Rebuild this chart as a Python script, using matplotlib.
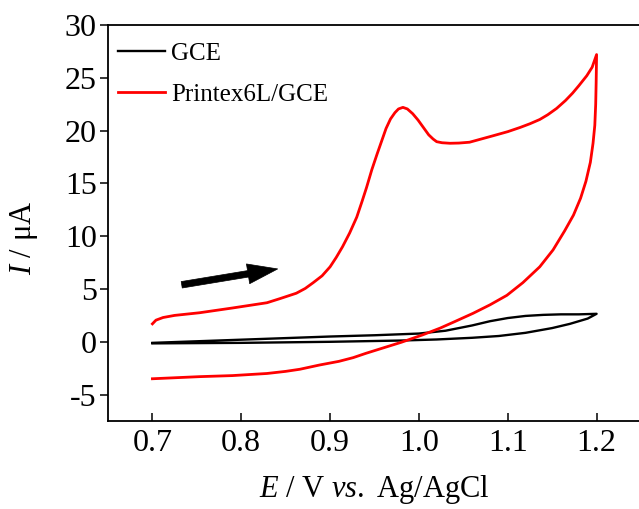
import numpy as np
import matplotlib
matplotlib.use('Agg')
from matplotlib import pyplot as plt

plt.rcParams['font.family'] = ['Liberation Serif', 'DejaVu Serif']
plt.rcParams['mathtext.fontset'] = 'custom'
plt.rcParams['mathtext.rm'] = 'Liberation Serif'
plt.rcParams['mathtext.it'] = 'Liberation Serif:italic'
plt.rcParams['axes.unicode_minus'] = False

# GCE, forward (upper) and reverse (lower) branches
gce_fwd_E = [0.70, 0.75, 0.80, 0.85, 0.90, 0.95, 1.00, 1.03, 1.06, 1.08, 1.10, 1.12, 1.14, 1.16, 1.18, 1.20]
gce_fwd_I = [-0.1, 0.05, 0.2, 0.35, 0.5, 0.62, 0.78, 1.05, 1.55, 1.95, 2.25, 2.45, 2.55, 2.6, 2.6, 2.65]
gce_rev_E = [1.20, 1.19, 1.17, 1.15, 1.12, 1.09, 1.06, 1.02, 0.98, 0.90, 0.80, 0.70]
gce_rev_I = [2.65, 2.2, 1.7, 1.3, 0.85, 0.55, 0.38, 0.22, 0.12, 0.0, -0.1, -0.15]

# Printex6L/GCE
ptx_fwd_E = [0.700, 0.704, 0.712, 0.725, 0.753, 0.790, 0.829, 0.844, 0.862, 0.872, 0.881, 0.891,
             0.900, 0.907, 0.914, 0.922, 0.930, 0.936, 0.941, 0.947, 0.953, 0.958, 0.963, 0.968,
             0.973, 0.977, 0.982, 0.987, 0.993, 0.999, 1.005, 1.011, 1.016, 1.020, 1.026, 1.035,
             1.045, 1.057, 1.083, 1.100, 1.114, 1.125, 1.136, 1.145, 1.155, 1.165, 1.173, 1.180,
             1.189, 1.195, 1.200]
ptx_fwd_I = [1.7, 2.05, 2.3, 2.5, 2.75, 3.2, 3.7, 4.1, 4.6, 5.05, 5.6, 6.25,
             7.1, 8.0, 9.0, 10.3, 11.8, 13.3, 14.6, 16.3, 17.8, 19.0, 20.2, 21.1,
             21.7, 22.05, 22.2, 22.05, 21.6, 21.0, 20.3, 19.6, 19.2, 18.95, 18.85, 18.8,
             18.82, 18.9, 19.5, 19.9, 20.3, 20.65, 21.05, 21.5, 22.1, 22.85, 23.55, 24.25,
             25.2, 26.0, 27.2]
ptx_rev_E = [1.200, 1.1995, 1.199, 1.198, 1.196, 1.193, 1.188, 1.182, 1.174, 1.164, 1.151, 1.136,
             1.117, 1.099, 1.080, 1.061, 1.040, 1.024, 1.004, 0.980, 0.959, 0.940, 0.926, 0.910,
             0.888, 0.866, 0.850, 0.829, 0.790, 0.753, 0.700]
ptx_rev_I = [27.2, 24.5, 22.5, 20.5, 18.8, 17.0, 15.2, 13.6, 12.0, 10.5, 8.7, 7.1,
             5.6, 4.4, 3.5, 2.7, 1.9, 1.3, 0.65, -0.05, -0.6, -1.1, -1.5, -1.85,
             -2.2, -2.6, -2.8, -3.0, -3.2, -3.3, -3.5]

xticks = [0.7, 0.8, 0.9, 1.0, 1.1, 1.2]
yticks = [-5, 0, 5, 10, 15, 20, 25, 30]

fig = plt.figure(figsize=(6.39, 5.09), dpi=100)
ax = fig.add_axes([108/639, 88/509, 533/639, 396/509])

ax.plot(gce_fwd_E + gce_rev_E, gce_fwd_I + gce_rev_I, color='black', lw=1.7, label='GCE')
ax.plot(ptx_fwd_E + ptx_rev_E, ptx_fwd_I + ptx_rev_I, color='red', lw=2.0, label='Printex6L/GCE')

# scan direction arrow
ax.annotate('', xy=(0.841, 6.9), xytext=(0.733, 5.4),
            arrowprops=dict(arrowstyle='simple,head_length=1.2,head_width=0.8,tail_width=0.26',
                            fc='black', ec='black', lw=0.5, mutation_scale=18,
                            shrinkA=0, shrinkB=0))

ax.set_xlim(0.65, 1.25)
ax.set_ylim(-7.5, 30)
ax.set_xticks(xticks)
ax.set_xticklabels(['%.1f' % v for v in xticks])
ax.set_yticks(yticks)
ax.tick_params(axis='x', direction='in', length=6, width=1.1, labelsize=23, pad=6)
ax.tick_params(axis='y', direction='out', length=6, width=1.1, labelsize=23, pad=2)
for s in ax.spines.values():
    s.set_linewidth(1.3)

ax.set_xlabel(r'$E$ / V $vs.$ Ag/AgCl', fontsize=22)
ax.xaxis.set_label_coords(0.5, -0.132)
ax.set_ylabel(r'$I$ / μA', fontsize=22)
ax.yaxis.set_label_coords(-0.128, 0.462)

ax.legend(loc='upper left', frameon=False, fontsize=18, handlelength=1.88,
          handletextpad=0.25, borderaxespad=0.0, labelspacing=0.75,
          bbox_to_anchor=(0.0, 0.982))

fig.savefig('out.png', dpi=100)
